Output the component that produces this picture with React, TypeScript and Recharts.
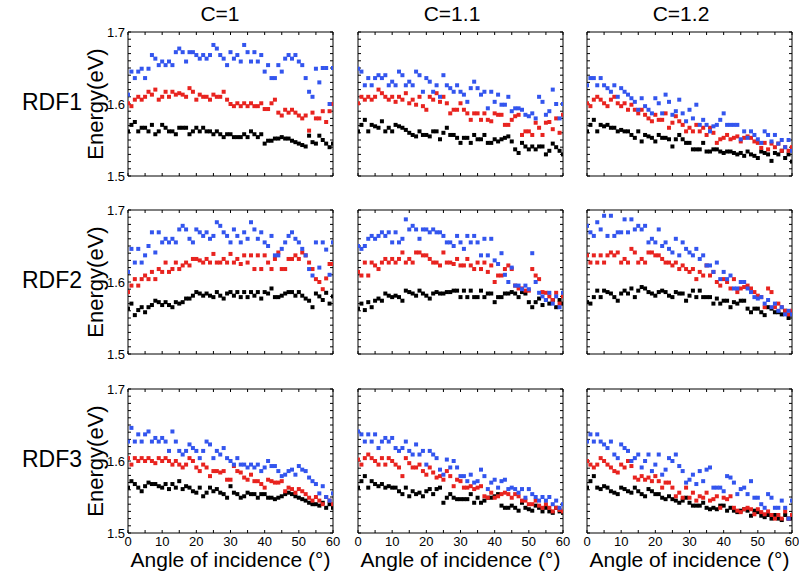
import { Scatter, ScatterChart, XAxis, YAxis } from "recharts";

const ANGLES = [
  0, 1, 2, 3, 4, 5, 6, 7, 8, 9, 10, 11, 12, 13, 14, 15, 16, 17, 18, 19, 20,
  21, 22, 23, 24, 25, 26, 27, 28, 29, 30, 31, 32, 33, 34, 35, 36, 37, 38, 39,
  40, 41, 42, 43, 44, 45, 46, 47, 48, 49, 50, 51, 52, 53, 54, 55, 56, 57, 58,
  59, 60,
];
const X_TICKS = [0, 5, 10, 15, 20, 25, 30, 35, 40, 45, 50, 55, 60];
const Y_TICKS = [
  1.5, 1.51, 1.52, 1.53, 1.54, 1.55, 1.56, 1.57, 1.58, 1.59, 1.6, 1.61, 1.62,
  1.63, 1.64, 1.65, 1.66, 1.67, 1.68, 1.69, 1.7,
];
const COLUMN_TITLES = ["C=1", "C=1.1", "C=1.2"];
const ROW_TITLES = ["RDF1", "RDF2", "RDF3"];

// RDF1
const RDF1_C1_BLUE = [
  1.613, 1.645, 1.636, 1.645, 1.649, 1.636, 1.649, 1.668, 1.663, 1.654,
  1.659, 1.654, 1.659, 1.654, 1.672, 1.677, 1.672, 1.659, 1.672, 1.672,
  1.668, 1.663, 1.668, 1.663, 1.668, 1.682, 1.677, 1.668, 1.663, 1.654,
  1.672, 1.663, 1.668, 1.659, 1.682, 1.672, 1.659, 1.672, 1.659, 1.668,
  1.645, 1.654, 1.636, 1.636, 1.654, 1.645, 1.663, 1.668, 1.663, 1.668,
  1.659, 1.654, 1.636, 1.617, 1.61, 1.649, 1.63, 1.65, 1.65, 1.6, 1.65,
];
const RDF1_C1_RED = [
  1.601, 1.597, 1.606, 1.61, 1.606, 1.61, 1.617, 1.613, 1.62, 1.606,
  1.61, 1.617, 1.61, 1.617, 1.613, 1.615, 1.613, 1.61, 1.622, 1.617,
  1.606, 1.613, 1.61, 1.61, 1.606, 1.613, 1.61, 1.61, 1.617, 1.606,
  1.6, 1.597, 1.601, 1.597, 1.601, 1.597, 1.601, 1.597, 1.597, 1.601,
  1.593, 1.593, 1.601, 1.606, 1.588, 1.584, 1.592, 1.588, 1.592, 1.588,
  1.584, 1.58, 1.584, 1.563, 1.588, 1.58, 1.58, 1.59, 1.575, 1.59, 1.6,
];
const RDF1_C1_BLACK = [
  1.562, 1.571, 1.575, 1.562, 1.567, 1.567, 1.562, 1.571, 1.558, 1.562,
  1.571, 1.567, 1.562, 1.562, 1.558, 1.567, 1.567, 1.567, 1.558, 1.562,
  1.567, 1.562, 1.567, 1.562, 1.562, 1.558, 1.562, 1.558, 1.554, 1.558,
  1.558, 1.554, 1.554, 1.554, 1.558, 1.554, 1.562, 1.558, 1.554, 1.558,
  1.545, 1.549, 1.549, 1.552, 1.552, 1.554, 1.552, 1.552, 1.549, 1.547,
  1.545, 1.543, 1.541, 1.556, 1.547, 1.545, 1.556, 1.55, 1.545, 1.54, 1.545,
];
const RDF1_C11_BLUE = [
  1.649, 1.645, 1.626, 1.636, 1.626, 1.636, 1.64, 1.636, 1.64, 1.626,
  1.631, 1.626, 1.645, 1.64, 1.626, 1.631, 1.626, 1.645, 1.64, 1.617,
  1.636, 1.631, 1.617, 1.626, 1.61, 1.64, 1.626, 1.622, 1.617, 1.626,
  1.617, 1.613, 1.603, 1.622, 1.631, 1.622, 1.613, 1.617, 1.594, 1.617,
  1.603, 1.613, 1.599, 1.599, 1.61, 1.59, 1.594, 1.594, 1.592, 1.585,
  1.583, 1.587, 1.58, 1.61, 1.603, 1.585, 1.59, 1.62, 1.6, 1.58, 1.6,
];
const RDF1_C11_RED = [
  1.601, 1.61, 1.606, 1.61, 1.606, 1.61, 1.62, 1.615, 1.61, 1.606,
  1.61, 1.603, 1.61, 1.606, 1.615, 1.601, 1.606, 1.599, 1.61, 1.597,
  1.592, 1.61, 1.606, 1.615, 1.603, 1.61, 1.601, 1.587, 1.592, 1.592,
  1.601, 1.592, 1.587, 1.578, 1.587, 1.587, 1.578, 1.587, 1.578, 1.576,
  1.587, 1.585, 1.585, 1.571, 1.571, 1.578, 1.583, 1.585, 1.557, 1.562,
  1.562, 1.557, 1.574, 1.567, 1.557, 1.574, 1.575, 1.565, 1.58, 1.56, 1.585,
];
const RDF1_C11_BLACK = [
  1.562, 1.571, 1.578, 1.562, 1.571, 1.569, 1.567, 1.576, 1.562, 1.567,
  1.562, 1.571, 1.569, 1.567, 1.564, 1.56, 1.557, 1.555, 1.562, 1.557,
  1.557, 1.555, 1.562, 1.562, 1.551, 1.56, 1.567, 1.557, 1.557, 1.553,
  1.546, 1.553, 1.553, 1.546, 1.557, 1.551, 1.551, 1.557, 1.546, 1.546,
  1.551, 1.548, 1.551, 1.553, 1.555, 1.548, 1.537, 1.532, 1.546, 1.541,
  1.537, 1.541, 1.537, 1.541, 1.541, 1.53, 1.535, 1.545, 1.54, 1.535, 1.53,
];
const RDF1_C12_BLUE = [
  1.626, 1.636, 1.636, 1.626, 1.636, 1.626, 1.622, 1.617, 1.626, 1.61,
  1.622, 1.617, 1.613, 1.608, 1.603, 1.592, 1.608, 1.597, 1.592, 1.587,
  1.608, 1.601, 1.587, 1.613, 1.603, 1.585, 1.59, 1.606, 1.587, 1.576,
  1.592, 1.58, 1.599, 1.571, 1.578, 1.571, 1.562, 1.569, 1.571, 1.578,
  1.587, 1.571, 1.571, 1.571, 1.571, 1.551, 1.562, 1.553, 1.562, 1.557,
  1.551, 1.546, 1.562, 1.557, 1.548, 1.557, 1.545, 1.55, 1.54, 1.55, 1.535,
];
const RDF1_C12_RED = [
  1.601, 1.597, 1.606, 1.61, 1.606, 1.601, 1.597, 1.606, 1.61, 1.601,
  1.597, 1.601, 1.592, 1.599, 1.592, 1.587, 1.592, 1.585, 1.58, 1.576,
  1.585, 1.578, 1.578, 1.587, 1.567, 1.574, 1.583, 1.576, 1.571, 1.562,
  1.567, 1.562, 1.571, 1.562, 1.567, 1.557, 1.567, 1.56, 1.546, 1.551,
  1.553, 1.557, 1.551, 1.553, 1.555, 1.548, 1.553, 1.555, 1.553, 1.548,
  1.546, 1.539, 1.546, 1.537, 1.545, 1.54, 1.545, 1.535, 1.54, 1.535, 1.54,
];
const RDF1_C12_BLACK = [
  1.562, 1.571, 1.578, 1.562, 1.571, 1.569, 1.571, 1.567, 1.567, 1.562,
  1.564, 1.562, 1.562, 1.557, 1.553, 1.562, 1.548, 1.557, 1.555, 1.553,
  1.548, 1.557, 1.553, 1.553, 1.551, 1.541, 1.551, 1.557, 1.551, 1.546,
  1.546, 1.537, 1.537, 1.537, 1.546, 1.534, 1.534, 1.537, 1.537, 1.534,
  1.532, 1.534, 1.534, 1.532, 1.53, 1.532, 1.528, 1.534, 1.53, 1.528,
  1.525, 1.534, 1.532, 1.53, 1.521, 1.532, 1.53, 1.535, 1.525, 1.53, 1.52,
];

// RDF2
const RDF2_C1_BLUE = [
  1.614, 1.646, 1.627, 1.646, 1.627, 1.637, 1.65, 1.669, 1.641, 1.669,
  1.655, 1.66, 1.655, 1.66, 1.655, 1.673, 1.678, 1.673, 1.66, 1.655,
  1.673, 1.669, 1.664, 1.669, 1.66, 1.664, 1.683, 1.678, 1.669, 1.664,
  1.655, 1.673, 1.664, 1.655, 1.669, 1.66, 1.683, 1.673, 1.66, 1.669,
  1.655, 1.65, 1.664, 1.637, 1.637, 1.646, 1.655, 1.664, 1.669, 1.66,
  1.655, 1.646, 1.637, 1.618, 1.609, 1.655, 1.62, 1.655, 1.645, 1.61, 1.655,
];
const RDF2_C1_RED = [
  1.586, 1.595, 1.604, 1.595, 1.604, 1.609, 1.604, 1.614, 1.604, 1.618,
  1.614, 1.627, 1.614, 1.618, 1.627, 1.618, 1.623, 1.627, 1.623, 1.632,
  1.632, 1.63, 1.627, 1.632, 1.627, 1.639, 1.627, 1.627, 1.632, 1.627,
  1.639, 1.627, 1.632, 1.625, 1.637, 1.627, 1.637, 1.618, 1.637, 1.618,
  1.637, 1.627, 1.618, 1.632, 1.641, 1.618, 1.618, 1.632, 1.632, 1.637,
  1.632, 1.641, 1.637, 1.627, 1.618, 1.604, 1.6, 1.59, 1.605, 1.625, 1.625,
];
const RDF2_C1_BLACK = [
  1.563, 1.57, 1.554, 1.561, 1.565, 1.558, 1.565, 1.568, 1.574, 1.572,
  1.568, 1.572, 1.568, 1.565, 1.572, 1.57, 1.572, 1.577, 1.577, 1.581,
  1.586, 1.584, 1.581, 1.584, 1.581, 1.579, 1.586, 1.581, 1.577, 1.584,
  1.586, 1.581, 1.586, 1.579, 1.586, 1.579, 1.586, 1.581, 1.586, 1.577,
  1.586, 1.584, 1.591, 1.579, 1.579, 1.581, 1.584, 1.586, 1.586, 1.581,
  1.586, 1.581, 1.577, 1.574, 1.565, 1.584, 1.58, 1.575, 1.585, 1.57, 1.58,
];
const RDF2_C11_BLUE = [
  1.65, 1.646, 1.65, 1.66, 1.664, 1.66, 1.664, 1.669, 1.664, 1.669,
  1.655, 1.669, 1.655, 1.66, 1.687, 1.673, 1.678, 1.673, 1.66, 1.673,
  1.673, 1.669, 1.673, 1.669, 1.669, 1.664, 1.655, 1.655, 1.65, 1.664,
  1.655, 1.646, 1.664, 1.655, 1.664, 1.655, 1.637, 1.66, 1.637, 1.66,
  1.63, 1.625, 1.64, 1.61, 1.6, 1.62, 1.595, 1.595, 1.59, 1.595,
  1.59, 1.64, 1.6, 1.585, 1.58, 1.575, 1.585, 1.57, 1.58, 1.565, 1.585,
];
const RDF2_C11_RED = [
  1.614, 1.609, 1.627, 1.609, 1.627, 1.623, 1.618, 1.627, 1.632, 1.627,
  1.632, 1.627, 1.632, 1.641, 1.627, 1.632, 1.627, 1.641, 1.641, 1.637,
  1.637, 1.632, 1.627, 1.627, 1.623, 1.641, 1.627, 1.627, 1.625, 1.632,
  1.623, 1.623, 1.632, 1.623, 1.618, 1.627, 1.618, 1.627, 1.614, 1.623,
  1.6, 1.609, 1.609, 1.618, 1.623, 1.618, 1.595, 1.591, 1.591, 1.588,
  1.588, 1.618, 1.609, 1.604, 1.586, 1.585, 1.58, 1.575, 1.585, 1.57, 1.58,
];
const RDF2_C11_BLACK = [
  1.563, 1.57, 1.561, 1.572, 1.565, 1.574, 1.577, 1.574, 1.584, 1.581,
  1.579, 1.581, 1.579, 1.574, 1.588, 1.586, 1.584, 1.581, 1.588, 1.584,
  1.581, 1.577, 1.584, 1.586, 1.584, 1.584, 1.586, 1.586, 1.588, 1.588,
  1.579, 1.588, 1.579, 1.588, 1.579, 1.579, 1.588, 1.579, 1.584, 1.584,
  1.572, 1.579, 1.579, 1.584, 1.584, 1.586, 1.584, 1.579, 1.586, 1.584,
  1.572, 1.565, 1.572, 1.577, 1.568, 1.575, 1.57, 1.575, 1.565, 1.575, 1.57,
];
const RDF2_C12_BLUE = [
  1.678, 1.669, 1.664, 1.683, 1.673, 1.692, 1.664, 1.692, 1.664, 1.669,
  1.669, 1.687, 1.669, 1.687, 1.673, 1.678, 1.673, 1.678, 1.655, 1.66,
  1.655, 1.673, 1.65, 1.655, 1.646, 1.641, 1.66, 1.637, 1.655, 1.646,
  1.641, 1.637, 1.646, 1.632, 1.637, 1.623, 1.623, 1.614, 1.627, 1.604,
  1.614, 1.604, 1.609, 1.591, 1.591, 1.6, 1.6, 1.591, 1.586, 1.579,
  1.577, 1.579, 1.57, 1.575, 1.565, 1.57, 1.56, 1.565, 1.555, 1.56, 1.555,
];
const RDF2_C12_RED = [
  1.637, 1.627, 1.637, 1.627, 1.637, 1.627, 1.637, 1.641, 1.637, 1.641,
  1.627, 1.632, 1.627, 1.646, 1.641, 1.627, 1.632, 1.627, 1.641, 1.641,
  1.637, 1.637, 1.632, 1.627, 1.627, 1.623, 1.627, 1.618, 1.623, 1.618,
  1.614, 1.618, 1.604, 1.614, 1.609, 1.623, 1.609, 1.614, 1.6, 1.595,
  1.604, 1.6, 1.591, 1.604, 1.586, 1.591, 1.593, 1.595, 1.591, 1.586,
  1.581, 1.579, 1.565, 1.591, 1.586, 1.565, 1.57, 1.565, 1.56, 1.555, 1.56,
];
const RDF2_C12_BLACK = [
  1.572, 1.57, 1.579, 1.588, 1.579, 1.588, 1.586, 1.584, 1.579, 1.574,
  1.584, 1.588, 1.584, 1.591, 1.579, 1.588, 1.593, 1.591, 1.586, 1.584,
  1.581, 1.586, 1.588, 1.586, 1.581, 1.579, 1.586, 1.584, 1.584, 1.574,
  1.581, 1.588, 1.579, 1.588, 1.579, 1.579, 1.579, 1.57, 1.577, 1.57,
  1.574, 1.574, 1.565, 1.572, 1.57, 1.574, 1.574, 1.563, 1.558, 1.563,
  1.563, 1.558, 1.554, 1.565, 1.563, 1.558, 1.558, 1.555, 1.56, 1.55, 1.555,
];

// RDF3
const RDF3_C1_BLUE = [
  1.627, 1.646, 1.627, 1.637, 1.627, 1.637, 1.641, 1.627, 1.632, 1.627,
  1.632, 1.627, 1.614, 1.641, 1.627, 1.614, 1.609, 1.614, 1.623, 1.618,
  1.614, 1.604, 1.614, 1.627, 1.623, 1.604, 1.614, 1.609, 1.618, 1.604,
  1.6, 1.595, 1.604, 1.595, 1.595, 1.591, 1.595, 1.591, 1.595, 1.586,
  1.591, 1.6, 1.593, 1.593, 1.586, 1.579, 1.581, 1.586, 1.588, 1.581,
  1.593, 1.588, 1.586, 1.577, 1.572, 1.568, 1.555, 1.565, 1.55, 1.545, 1.555,
];
const RDF3_C1_RED = [
  1.604, 1.595, 1.604, 1.6, 1.604, 1.6, 1.604, 1.6, 1.597, 1.604,
  1.6, 1.604, 1.6, 1.595, 1.6, 1.595, 1.591, 1.595, 1.604, 1.6,
  1.591, 1.586, 1.595, 1.591, 1.579, 1.586, 1.586, 1.584, 1.586, 1.574,
  1.574, 1.593, 1.586, 1.584, 1.577, 1.574, 1.581, 1.572, 1.572, 1.568,
  1.563, 1.574, 1.572, 1.57, 1.57, 1.572, 1.558, 1.563, 1.561, 1.556,
  1.561, 1.558, 1.554, 1.549, 1.545, 1.55, 1.545, 1.54, 1.55, 1.545, 1.54,
];
const RDF3_C1_BLACK = [
  1.563, 1.572, 1.568, 1.563, 1.558, 1.565, 1.57, 1.568, 1.568, 1.565,
  1.563, 1.568, 1.561, 1.568, 1.563, 1.572, 1.561, 1.565, 1.563, 1.558,
  1.556, 1.563, 1.551, 1.556, 1.563, 1.558, 1.561, 1.556, 1.554, 1.549,
  1.565, 1.556, 1.554, 1.549, 1.551, 1.556, 1.554, 1.554, 1.549, 1.554,
  1.554, 1.549, 1.549, 1.547, 1.549, 1.551, 1.554, 1.556, 1.554, 1.551,
  1.549, 1.547, 1.545, 1.542, 1.54, 1.54, 1.538, 1.542, 1.535, 1.54, 1.535,
];
const RDF3_C11_BLUE = [
  1.641, 1.637, 1.627, 1.637, 1.627, 1.637, 1.618, 1.627, 1.632, 1.627,
  1.632, 1.618, 1.614, 1.618, 1.627, 1.614, 1.609, 1.623, 1.609, 1.614,
  1.595, 1.614, 1.609, 1.604, 1.588, 1.581, 1.602, 1.591, 1.6, 1.591,
  1.579, 1.579, 1.572, 1.581, 1.57, 1.572, 1.588, 1.579, 1.561, 1.57,
  1.574, 1.563, 1.572, 1.574, 1.561, 1.563, 1.561, 1.556, 1.561, 1.549,
  1.561, 1.554, 1.55, 1.545, 1.55, 1.545, 1.55, 1.54, 1.545, 1.535, 1.54,
];
const RDF3_C11_RED = [
  1.602, 1.595, 1.604, 1.609, 1.604, 1.6, 1.595, 1.604, 1.595, 1.604,
  1.6, 1.595, 1.591, 1.579, 1.604, 1.597, 1.591, 1.591, 1.595, 1.586,
  1.581, 1.591, 1.584, 1.577, 1.579, 1.574, 1.586, 1.579, 1.565, 1.574,
  1.572, 1.563, 1.563, 1.565, 1.561, 1.563, 1.565, 1.551, 1.549, 1.556,
  1.549, 1.551, 1.554, 1.556, 1.554, 1.549, 1.554, 1.551, 1.545, 1.545,
  1.54, 1.54, 1.545, 1.538, 1.535, 1.54, 1.535, 1.53, 1.535, 1.532, 1.53,
];
const RDF3_C11_BLACK = [
  1.563, 1.572, 1.579, 1.563, 1.572, 1.568, 1.565, 1.568, 1.563, 1.565,
  1.563, 1.563, 1.558, 1.554, 1.563, 1.551, 1.558, 1.554, 1.556, 1.551,
  1.558, 1.561, 1.554, 1.561, 1.563, 1.542, 1.549, 1.554, 1.549, 1.547,
  1.547, 1.547, 1.547, 1.554, 1.542, 1.549, 1.542, 1.545, 1.549, 1.549,
  1.551, 1.554, 1.538, 1.535, 1.535, 1.538, 1.535, 1.531, 1.542, 1.535,
  1.533, 1.531, 1.538, 1.535, 1.53, 1.535, 1.53, 1.528, 1.535, 1.53, 1.528,
];
const RDF3_C12_BLUE = [
  1.627, 1.637, 1.627, 1.637, 1.627, 1.623, 1.618, 1.627, 1.609, 1.604,
  1.623, 1.618, 1.614, 1.6, 1.604, 1.609, 1.591, 1.6, 1.609, 1.586,
  1.595, 1.609, 1.581, 1.588, 1.604, 1.6, 1.609, 1.593, 1.586, 1.57,
  1.574, 1.581, 1.568, 1.586, 1.572, 1.588, 1.591, 1.563, 1.563, 1.563,
  1.558, 1.579, 1.577, 1.57, 1.554, 1.561, 1.563, 1.554, 1.572, 1.549,
  1.549, 1.54, 1.535, 1.554, 1.549, 1.535, 1.535, 1.545, 1.535, 1.52, 1.545,
];
const RDF3_C12_RED = [
  1.6, 1.595, 1.591, 1.595, 1.604, 1.6, 1.595, 1.591, 1.586, 1.584,
  1.595, 1.591, 1.6, 1.593, 1.577, 1.574, 1.579, 1.574, 1.577, 1.572,
  1.579, 1.572, 1.563, 1.57, 1.57, 1.563, 1.551, 1.556, 1.549, 1.563,
  1.549, 1.556, 1.545, 1.551, 1.549, 1.556, 1.545, 1.547, 1.551, 1.535,
  1.549, 1.547, 1.551, 1.535, 1.531, 1.529, 1.533, 1.535, 1.533, 1.526,
  1.533, 1.529, 1.526, 1.53, 1.525, 1.52, 1.525, 1.52, 1.53, 1.52, 1.525,
];
const RDF3_C12_BLACK = [
  1.563, 1.572, 1.579, 1.563, 1.561, 1.565, 1.563, 1.558, 1.556, 1.554,
  1.563, 1.561, 1.558, 1.556, 1.563, 1.558, 1.554, 1.551, 1.561, 1.558,
  1.554, 1.554, 1.549, 1.547, 1.551, 1.547, 1.545, 1.542, 1.545, 1.549,
  1.542, 1.538, 1.538, 1.538, 1.542, 1.535, 1.533, 1.535, 1.533, 1.538,
  1.538, 1.531, 1.535, 1.531, 1.529, 1.531, 1.533, 1.531, 1.524, 1.531,
  1.529, 1.524, 1.522, 1.525, 1.52, 1.525, 1.52, 1.518, 1.525, 1.52, 1.52,
];

const PANELS = [
  [
    [RDF1_C1_BLACK, RDF1_C1_RED, RDF1_C1_BLUE],
    [RDF1_C11_BLACK, RDF1_C11_RED, RDF1_C11_BLUE],
    [RDF1_C12_BLACK, RDF1_C12_RED, RDF1_C12_BLUE],
  ],
  [
    [RDF2_C1_BLACK, RDF2_C1_RED, RDF2_C1_BLUE],
    [RDF2_C11_BLACK, RDF2_C11_RED, RDF2_C11_BLUE],
    [RDF2_C12_BLACK, RDF2_C12_RED, RDF2_C12_BLUE],
  ],
  [
    [RDF3_C1_BLACK, RDF3_C1_RED, RDF3_C1_BLUE],
    [RDF3_C11_BLACK, RDF3_C11_RED, RDF3_C11_BLUE],
    [RDF3_C12_BLACK, RDF3_C12_RED, RDF3_C12_BLUE],
  ],
];

const COLORS = ["#000000", "#e8231f", "#3355ee"];
const COL_LEFT = [128, 358, 587];
const ROW_TOP = [32, 210, 389];
const PLOT_W = 205;
const PLOT_H = 144;
const TITLE_X = [220, 452, 681];

const toPoints = (values: number[]) =>
  values.map((y, i) => ({ x: ANGLES[i], y }));

const blank = () => "";
const xLabel = (v: number) => (v % 10 === 0 ? String(v) : "");
const yLabel = (v: number) =>
  Math.abs(v * 10 - Math.round(v * 10)) < 1e-6 ? v.toFixed(1) : "";

const tickStyle = { fill: "#000", fontSize: 13 };

// small filled square marker, 4px across
const Square = (props: any) => (
  <rect
    x={props.cx - 2}
    y={props.cy - 2}
    width={4}
    height={4}
    fill={props.fill}
  />
);

function Panel({ row, col }: { row: number; col: number }) {
  const series = PANELS[row][col];
  const bottom = row === 2;
  const left = col === 0;
  return (
    <div
      style={{
        position: "absolute",
        left: COL_LEFT[col] - 40,
        top: ROW_TOP[row] - 10,
      }}
    >
      <ScatterChart
        width={40 + PLOT_W + 10}
        height={10 + PLOT_H + 30}
        margin={{ top: 9, right: 9, bottom: 10, left: 10 }}
      >
        <XAxis
          xAxisId="b"
          type="number"
          dataKey="x"
          domain={[0, 60]}
          ticks={X_TICKS}
          interval={0}
          allowDataOverflow
          height={20}
          stroke="#000"
          tickSize={-3}
          tickMargin={7}
          tick={tickStyle}
          tickFormatter={bottom ? xLabel : blank}
        />
        <XAxis
          xAxisId="t"
          orientation="top"
          type="number"
          dataKey="x"
          domain={[0, 60]}
          ticks={X_TICKS}
          interval={0}
          allowDataOverflow
          height={1}
          stroke="#000"
          tickSize={-3}
          tick={tickStyle}
          tickFormatter={blank}
        />
        <YAxis
          yAxisId="l"
          type="number"
          dataKey="y"
          domain={[1.5, 1.7]}
          ticks={Y_TICKS}
          interval={0}
          allowDataOverflow
          width={30}
          stroke="#000"
          tickSize={-3}
          tickMargin={6}
          tick={tickStyle}
          tickFormatter={left ? yLabel : blank}
        />
        <YAxis
          yAxisId="r"
          orientation="right"
          type="number"
          dataKey="y"
          domain={[1.5, 1.7]}
          ticks={Y_TICKS}
          interval={0}
          allowDataOverflow
          width={1}
          stroke="#000"
          tickSize={-3}
          tick={tickStyle}
          tickFormatter={blank}
        />
        {series.map((values, i) => (
          <Scatter
            key={i}
            xAxisId="b"
            yAxisId="l"
            data={toPoints(values)}
            fill={COLORS[i]}
            shape={Square}
            isAnimationActive={false}
          />
        ))}
      </ScatterChart>
    </div>
  );
}

export default function App() {
  return (
    <div
      style={{
        position: "absolute",
        left: 0,
        top: 0,
        width: 799,
        height: 573,
        background: "#fff",
        fontFamily: "Arial, 'Liberation Sans', Helvetica, sans-serif",
        color: "#000",
      }}
    >
      {COLUMN_TITLES.map((t, c) => (
        <div
          key={t}
          style={{
            position: "absolute",
            left: TITLE_X[c] - 60,
            width: 120,
            top: 2,
            textAlign: "center",
            fontSize: 21,
            lineHeight: "24px",
          }}
        >
          {t}
        </div>
      ))}
      {ROW_TITLES.map((t, r) => (
        <div key={t}>
          <div
            style={{
              position: "absolute",
              left: 10,
              width: 84,
              top: ROW_TOP[r] + PLOT_H / 2 - 16,
              textAlign: "center",
              fontSize: 23,
              lineHeight: "28px",
            }}
          >
            {t}
          </div>
          <div
            style={{
              position: "absolute",
              left: 96 - 70,
              width: 140,
              top: ROW_TOP[r] + PLOT_H / 2 - 13,
              textAlign: "center",
              fontSize: 22,
              lineHeight: "26px",
              transform: "rotate(-90deg)",
            }}
          >
            Energy(eV)
          </div>
        </div>
      ))}
      {COL_LEFT.map((x) => (
        <div
          key={x}
          style={{
            position: "absolute",
            left: x + PLOT_W / 2 - 120,
            width: 240,
            top: 547,
            textAlign: "center",
            fontSize: 21,
            lineHeight: "25px",
          }}
        >
          Angle of incidence (°)
        </div>
      ))}
      {[0, 1, 2].map((r) =>
        [0, 1, 2].map((c) => <Panel key={`${r}-${c}`} row={r} col={c} />),
      )}
    </div>
  );
}
